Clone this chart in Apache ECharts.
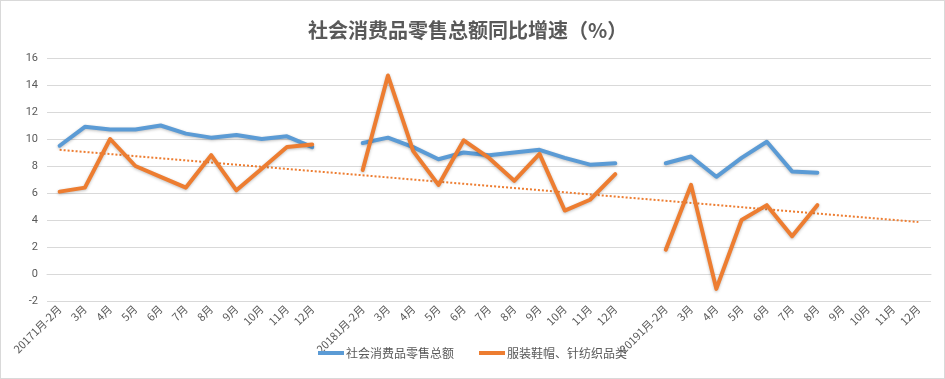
<!DOCTYPE html>
<html>
<head>
<meta charset="utf-8">
<script src="https://cdn.jsdelivr.net/npm/echarts@6/dist/echarts.min.js"></script>
<style>
html,body{margin:0;padding:0;background:#fff;}
#chart{width:945px;height:379px;box-sizing:border-box;border:1px solid #d9d9d9;}
</style>
</head>
<body>
<div id="chart"></div>
<script>
const categories = [
  '20171月-2月','3月','4月','5月','6月','7月','8月','9月','10月','11月','12月',
  '',
  '20181月-2月','3月','4月','5月','6月','7月','8月','9月','10月','11月','12月',
  '',
  '20191月-2月','3月','4月','5月','6月','7月','8月','9月','10月','11月','12月'
];
const retailTotal = [
  9.5, 10.9, 10.7, 10.7, 11.0, 10.4, 10.1, 10.3, 10.0, 10.2, 9.4,
  null,
  9.7, 10.1, 9.4, 8.5, 9.0, 8.8, 9.0, 9.2, 8.6, 8.1, 8.2,
  null,
  8.2, 8.7, 7.2, 8.6, 9.8, 7.6, 7.5, null, null, null, null
];
const clothing = [
  6.1, 6.4, 10.0, 8.0, 7.2, 6.4, 8.8, 6.2, 7.8, 9.4, 9.6,
  null,
  7.7, 14.7, 9.1, 6.6, 9.9, 8.6, 6.9, 8.9, 4.7, 5.5, 7.4,
  null,
  1.8, 6.6, -1.1, 4.0, 5.1, 2.8, 5.1, null, null, null, null
];
// dotted linear trend of clothing series: value at first and last category
const trendEnds = [9.2, 3.85];
const yTicks = {min: -2, max: 16, interval: 2};

const trendData = categories.map(function(c, i){
  if (i === 0) return trendEnds[0];
  if (i === categories.length - 1) return trendEnds[1];
  return null;
});

const chart = echarts.init(document.getElementById('chart'));
const grey = '#595959';
chart.setOption({
  animation: false,
  title: {
    text: '社会消费品零售总额同比增速（%）',
    left: 302,
    top: 14,
    textStyle: {
      fontFamily: '"Noto Sans CJK SC", sans-serif',
      fontSize: 20,
      fontWeight: 'bold',
      color: grey
    }
  },
  legend: {
    bottom: 14,
    left: 'center',
    itemWidth: 26,
    itemHeight: 4,
    itemGap: 25,
    icon: 'rect',
    data: ['社会消费品零售总额', '服装鞋帽、针纺织品类'],
    textStyle: {
      fontFamily: '"Noto Sans CJK SC", sans-serif',
      fontSize: 12,
      color: grey,
      padding: [0, 0, 0, -3]
    }
  },
  grid: {left: 46, right: 13, top: 57, bottom: 77},
  xAxis: {
    type: 'category',
    data: categories,
    boundaryGap: true,
    axisLine: {show: true, onZero: true, lineStyle: {color: '#d9d9d9', width: 1}},
    axisTick: {show: false},
    axisLabel: {
      interval: 0,
      rotate: 45,
      margin: 6,
      fontSize: 11,
      color: grey,
      fontFamily: '"Noto Sans CJK SC", sans-serif'
    }
  },
  yAxis: {
    type: 'value',
    min: yTicks.min,
    max: yTicks.max,
    interval: yTicks.interval,
    axisLine: {show: false},
    axisTick: {show: false},
    axisLabel: {fontSize: 11, color: grey, margin: 9, fontFamily: 'Roboto, sans-serif'},
    splitLine: {lineStyle: {color: '#d9d9d9', width: 1}}
  },
  series: [
    {
      name: '社会消费品零售总额',
      type: 'line',
      data: retailTotal,
      showSymbol: false,
      connectNulls: false,
      itemStyle: {color: '#5B9BD5'},
      lineStyle: {color: '#5B9BD5', width: 4, cap: 'round', join: 'round',
        shadowColor: 'rgba(0,0,0,0.25)', shadowBlur: 3, shadowOffsetY: 1},
      z: 3
    },
    {
      name: '服装鞋帽、针纺织品类',
      type: 'line',
      data: clothing,
      showSymbol: false,
      connectNulls: false,
      itemStyle: {color: '#ED7D31'},
      lineStyle: {color: '#ED7D31', width: 4, cap: 'round', join: 'round',
        shadowColor: 'rgba(0,0,0,0.25)', shadowBlur: 3, shadowOffsetY: 1},
      z: 4
    },
    {
      name: '趋势线',
      type: 'line',
      data: trendData,
      connectNulls: true,
      showSymbol: false,
      silent: true,
      itemStyle: {color: '#ED7D31'},
      lineStyle: {color: '#ED7D31', width: 2, type: [2, 2]},
      z: 2
    }
  ]
});
</script>
</body>
</html>
